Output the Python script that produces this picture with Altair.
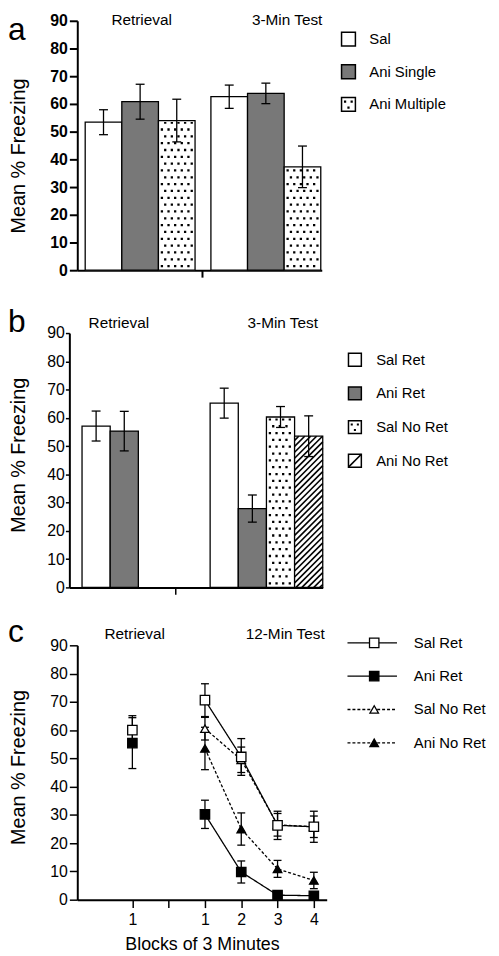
import json
import altair as alt
import numpy as np
import pandas as pd

FONT = "Liberation Sans"

# ---------------- data ----------------
# panel a
a_groups = ["Retrieval", "3-Min Test"]
a_series = ["Sal", "Ani Single", "Ani Multiple"]
a_retrieval_mean = [53.4, 60.8, 54.0]
a_retrieval_sem = [4.5, 6.3, 7.7]
a_test_mean = [62.6, 63.8, 37.3]
a_test_sem = [4.2, 3.7, 7.5]

# panel b
b_groups = ["Retrieval", "3-Min Test"]
b_series = ["Sal Ret", "Ani Ret", "Sal No Ret", "Ani No Ret"]
b_retrieval_series = ["Sal Ret", "Ani Ret"]
b_retrieval_mean = [57.1, 55.3]
b_retrieval_sem = [5.3, 7.0]
b_test_mean = [65.2, 27.9, 60.3, 53.5]
b_test_sem = [5.3, 4.8, 3.7, 7.2]

# panel c
c_groups = ["Retrieval", "12-Min Test"]
c_series = ["Sal Ret", "Ani Ret", "Sal No Ret", "Ani No Ret"]
c_blocks = [1, 2, 3, 4]
c_retrieval_series = ["Sal Ret", "Ani Ret"]
c_retrieval_mean = [60.0, 55.4]
c_retrieval_sem = [5.1, 9.0]
c_test_mean = {
    "Sal Ret": [70.6, 50.5, 26.3, 25.8],
    "Ani Ret": [30.2, 9.8, 1.6, 1.4],
    "Sal No Ret": [60.5, 49.5, 26.5, 25.8],
    "Ani No Ret": [53.5, 25.0, 10.9, 6.8],
}
c_test_sem = {
    "Sal Ret": [5.8, 6.5, 5.0, 5.5],
    "Ani Ret": [5.0, 3.9, 0.6, 0.6],
    "Sal No Ret": [4.0, 4.5, 4.0, 3.8],
    "Ani No Ret": [7.5, 5.7, 3.0, 2.9],
}
c_tick_labels = ["1", "", "1", "2", "3", "4"]

y_ticks = list(range(0, 91, 10))
y_title = "Mean % Freezing"
x_title_c = "Blocks of 3 Minutes"

# ---------------- styles / layout ----------------
GRAY = "#787878"
DOT_SYMBOL = "M-0.65,-0.55h0.32v0.32h-0.32Z M0.3,-0.55h0.32v0.32h-0.32Z M-0.16,0.3h0.32v0.32h-0.32Z"
HATCH_SYMBOL = "M-1,1L1,-1"


def bar_table(groups, series_per_group, means, sems, starts):
    rows = []
    for g, grp in enumerate(groups):
        for i, s in enumerate(series_per_group[g]):
            x0 = starts[g] + i
            m, e = means[g][i], sems[g][i]
            rows.append(dict(group=grp, series=s, x0=x0, x1=x0 + 1, xc=x0 + 0.5,
                             mean=m, zero=0.0, lo=m - e, hi=m + e))
    return pd.DataFrame(rows)


def bar_panel(df, series, fills, dotted, hatched, *, width, height, x_range, x_max,
              mid_tick, bar_px, bold, tick_size, tick_width, label_pad, title_pad,
              title_y, axis_offset, letter, letter_y, ann, ann_y):
    px_y = height / 90.0
    xs = alt.Scale(domain=[0, x_max], range=x_range, nice=False, zero=False)
    ys = alt.Scale(domain=[0, 90], nice=False, zero=True)
    xaxis = alt.Axis(values=[mid_tick], labels=False, title=None, tickSize=7,
                     tickWidth=tick_width, domainWidth=2, grid=False)
    yaxis = alt.Axis(values=y_ticks, title=y_title, titleFontSize=20,
                     titleFontWeight="normal", titlePadding=title_pad, titleY=title_y,
                     labelFontSize=16, labelFontWeight="bold" if bold else "normal",
                     labelPadding=label_pad, tickSize=tick_size, tickWidth=tick_width,
                     domainWidth=2, grid=False, offset=axis_offset, labelFlush=False,
                     labelOverlap=False)

    def X(f):
        return alt.X(f, scale=xs, axis=xaxis)

    def Y(f):
        return alt.Y(f, scale=ys, axis=yaxis)

    layers = [
        alt.Chart(df).mark_rect(stroke="black", strokeWidth=1.3).encode(
            x=X("x0:Q"), x2="x1", y=Y("mean:Q"), y2="zero",
            fill=alt.Fill("series:N", scale=alt.Scale(domain=series, range=fills), legend=None))
    ]

    # dotted texture (staggered dots) drawn as dashed vertical rules
    dot_rows = []
    for _, r in df[df.series.isin(dotted)].iterrows():
        top = r["mean"] - 1.5 / px_y
        for j, off in enumerate(np.arange(3.5, bar_px - 2.0, 3.35)):
            dot_rows.append(dict(x=r.x0 + off / bar_px, y0=0.0, y1=top, parity=j % 2))
    if dot_rows:
        dots = pd.DataFrame(dot_rows)
        for par, off in ((0, 10.8), (1, 3.9)):
            layers.append(
                alt.Chart(dots[dots.parity == par]).mark_rule(
                    color="black", strokeWidth=2.3, strokeDash=[2.3, 11.5], strokeDashOffset=off
                ).encode(x=X("x:Q"), y=Y("y0:Q"), y2="y1"))

    # hatched texture
    hatch_rows = []
    for _, r in df[df.series.isin(hatched)].iterrows():
        W = bar_px
        H = r["mean"] * px_y
        for c in np.arange(-W + 3.0, H, 6.0):
            xs_ = max(0.0, -c)
            xe = min(W, H - c)
            if xe > xs_:
                hatch_rows.append(dict(x=r.x0 + xs_ / W, x2=r.x0 + xe / W,
                                       y=(xs_ + c) / px_y, y2=(xe + c) / px_y))
    if hatch_rows:
        layers.append(
            alt.Chart(pd.DataFrame(hatch_rows)).mark_rule(color="black", strokeWidth=1.6).encode(
                x=X("x:Q"), x2="x2", y=Y("y:Q"), y2="y2"))

    caps_df = pd.concat([df.assign(yc=df.lo), df.assign(yc=df.hi)])
    layers += [
        alt.Chart(df).mark_rule(color="black", strokeWidth=1.3).encode(
            x=X("xc:Q"), y=Y("lo:Q"), y2="hi"),
        alt.Chart(caps_df).mark_tick(orient="horizontal", size=9, thickness=1.3,
                                     color="black", opacity=1).encode(
            x=X("xc:Q"), y=Y("yc:Q")),
        alt.Chart(ann).mark_text(fontSize=15.5, baseline="alphabetic", color="black").encode(
            x=X("x:Q"), y=alt.value(ann_y), text="label:N"),
        alt.Chart(pd.DataFrame({"t": [letter]})).mark_text(
            fontSize=32, align="left", baseline="alphabetic", color="black").encode(
            x=alt.value(-62), y=alt.value(letter_y), text="t:N"),
    ]
    return alt.layer(*layers).properties(width=width, height=height)


def box_legend(names, fills, dotted, hatched, *, height, y_range, sym_x, sym_size, text_x):
    ldf = pd.DataFrame({"name": names})
    ly = alt.Scale(type="point", domain=names, range=y_range, padding=0)
    Y = alt.Y("name:N", scale=ly, axis=None)
    layers = [
        alt.Chart(ldf).mark_square(size=sym_size, stroke="black", strokeWidth=1.5, opacity=1).encode(
            x=alt.value(sym_x), y=Y,
            fill=alt.Fill("name:N", scale=alt.Scale(domain=names, range=fills), legend=None)),
    ]
    if dotted:
        layers.append(alt.Chart(ldf[ldf.name.isin(dotted)]).mark_point(
            shape=DOT_SYMBOL, size=sym_size, filled=True, color="black", opacity=1).encode(
            x=alt.value(sym_x), y=Y))
    if hatched:
        layers.append(alt.Chart(ldf[ldf.name.isin(hatched)]).mark_point(
            shape=HATCH_SYMBOL, size=sym_size, filled=False, color="black", strokeWidth=1.6,
            opacity=1).encode(x=alt.value(sym_x), y=Y))
    layers.append(alt.Chart(ldf).mark_text(align="left", baseline="middle", fontSize=15,
                                           color="black").encode(
        x=alt.value(text_x), y=Y, text="name:N"))
    return alt.layer(*layers).properties(width=150, height=height)


# ---------------- panel a ----------------
A_BAR = 37.0
A_RANGE = [8, 255]
A_H = 252
a_df = bar_table(a_groups, [a_series, a_series],
                 [a_retrieval_mean, a_test_mean], [a_retrieval_sem, a_test_sem],
                 starts=[0.216, 3.649])
a_ann = pd.DataFrame({"x": [1.757, 5.73], "label": a_groups})
panel_a = bar_panel(a_df, a_series, ["white", GRAY, "white"], ["Ani Multiple"], [],
                    width=260, height=A_H, x_range=A_RANGE,
                    x_max=(A_RANGE[1] - A_RANGE[0]) / A_BAR, mid_tick=3.405, bar_px=A_BAR,
                    bold=True, tick_size=8, tick_width=2, label_pad=2, title_pad=22,
                    title_y=136, axis_offset=-8, letter="a", letter_y=19.5,
                    ann=a_ann, ann_y=4.5)
legend_a = box_legend(a_series, ["white", GRAY, "white"], ["Ani Multiple"], [],
                      height=A_H, y_range=[18.5, 84.5], sym_x=12, sym_size=196, text_x=33)

# ---------------- panel b ----------------
B_BAR = 256 / 9.0
B_H = 257
b_df = bar_table(b_groups, [b_retrieval_series, b_series],
                 [b_retrieval_mean, b_test_mean], [b_retrieval_sem, b_test_sem],
                 starts=[0.45, 5.0])
b_ann = pd.DataFrame({"x": [1.758, 7.58], "label": b_groups})
b_fills = ["white", GRAY, "white", "white"]
panel_b = bar_panel(b_df, b_series, b_fills, ["Sal No Ret"], ["Ani No Ret"],
                    width=260, height=B_H, x_range=[0, 256], x_max=9.0, mid_tick=3.76,
                    bar_px=B_BAR, bold=False, tick_size=4, tick_width=1.5, label_pad=1,
                    title_pad=19, title_y=123, axis_offset=0, letter="b", letter_y=-1,
                    ann=b_ann, ann_y=-5)
legend_b = box_legend(b_series, b_fills, ["Sal No Ret"], ["Ani No Ret"],
                      height=B_H, y_range=[27, 129], sym_x=18.5, sym_size=169, text_x=40)

# ---------------- panel c ----------------
C_RANGE = [8, 260]
C_UNIT = 36.67
C_H = 257
c_xmin = 1 - 129 / C_UNIT
c_xmax = 1 + 123 / C_UNIT
c_tick_values = [-1, 0, 1, 2, 3, 4]
draw_order = ["Ani No Ret", "Sal No Ret", "Ani Ret", "Sal Ret"]

c_rows = []
for s in draw_order:
    if s in c_retrieval_series:
        k = c_retrieval_series.index(s)
        m, e = c_retrieval_mean[k], c_retrieval_sem[k]
        c_rows.append(dict(series=s, phase="retrieval", x=-1, mean=m, lo=m - e, hi=m + e))
    for b, m, e in zip(c_blocks, c_test_mean[s], c_test_sem[s]):
        c_rows.append(dict(series=s, phase="test", x=b, mean=m, lo=m - e, hi=m + e))
c_df = pd.DataFrame(c_rows)

xs_c = alt.Scale(domain=[c_xmin, c_xmax], range=C_RANGE, nice=False, zero=False)
ys_c = alt.Scale(domain=[0, 90], nice=False)
xaxis_c = alt.Axis(values=c_tick_values,
                   labelExpr=json.dumps(c_tick_labels) + "[datum.value + 1]",
                   title=x_title_c, titleFontSize=18, titleFontWeight="normal", titlePadding=8,
                   labelFontSize=16, labelPadding=4, tickSize=8, tickWidth=1.5, domainWidth=2,
                   grid=False, labelFlush=False, labelOverlap=False)
yaxis_c = alt.Axis(values=y_ticks, title=y_title, titleFontSize=20, titleFontWeight="normal",
                   titlePadding=22, titleY=123, labelFontSize=16, labelPadding=2, tickSize=8,
                   tickWidth=1.5, domainWidth=2, grid=False, offset=-8, labelFlush=False,
                   labelOverlap=False)


def XC(f):
    return alt.X(f, scale=xs_c, axis=xaxis_c)


def YC(f):
    return alt.Y(f, scale=ys_c, axis=yaxis_c)


dash_scale = alt.Scale(domain=c_series, range=[[1, 0], [1, 0], [3, 2], [3, 2]])
shape_scale = alt.Scale(domain=c_series, range=["square", "square", "triangle-up", "triangle-up"])
fill_scale = alt.Scale(domain=c_series, range=["white", "black", "white", "black"])

c_caps = pd.concat([c_df.assign(yc=c_df.lo), c_df.assign(yc=c_df.hi)])
c_ann = pd.DataFrame({"x": [-0.936, 3.21], "label": c_groups})
panel_c = alt.layer(
    alt.Chart(c_df[c_df.phase == "test"]).mark_line(color="black", strokeWidth=1.3).encode(
        x=XC("x:Q"), y=YC("mean:Q"),
        strokeDash=alt.StrokeDash("series:N", scale=dash_scale, legend=None)),
    alt.Chart(c_df).mark_rule(color="black", strokeWidth=1.3).encode(
        x=XC("x:Q"), y=YC("lo:Q"), y2="hi"),
    alt.Chart(c_caps).mark_tick(orient="horizontal", size=8, thickness=1.3, color="black",
                                opacity=1).encode(x=XC("x:Q"), y=YC("yc:Q")),
    alt.Chart(c_df[c_df.series.str.contains("No")]).mark_point(
        filled=True, stroke="black", strokeWidth=1.3, opacity=1, size=75).encode(
        x=XC("x:Q"), y=YC("mean:Q"),
        shape=alt.Shape("series:N", scale=shape_scale, legend=None),
        fill=alt.Fill("series:N", scale=fill_scale, legend=None)),
    alt.Chart(c_df[~c_df.series.str.contains("No")]).mark_point(
        filled=True, stroke="black", strokeWidth=1.3, opacity=1, size=90).encode(
        x=XC("x:Q"), y=YC("mean:Q"),
        shape=alt.Shape("series:N", scale=shape_scale, legend=None),
        fill=alt.Fill("series:N", scale=fill_scale, legend=None)),
    alt.Chart(c_ann).mark_text(fontSize=15.5, baseline="alphabetic", color="black").encode(
        x=XC("x:Q"), y=alt.value(-6.5), text="label:N"),
    alt.Chart(pd.DataFrame({"t": ["c"]})).mark_text(
        fontSize=32, align="left", baseline="alphabetic", color="black").encode(
        x=alt.value(-62), y=alt.value(-3.5), text="t:N"),
).properties(width=260, height=C_H)

lc_df = pd.DataFrame({"name": c_series})
ly_c = alt.Scale(type="point", domain=c_series, range=[-2.5, 98.5], padding=0)
LYC = alt.Y("name:N", scale=ly_c, axis=None)
legend_c = alt.layer(
    alt.Chart(lc_df).mark_rule(color="black", strokeWidth=1.3).encode(
        x=alt.value(11), x2=alt.value(61), y=LYC,
        strokeDash=alt.StrokeDash("name:N", scale=dash_scale, legend=None)),
    alt.Chart(lc_df[lc_df.name.str.contains("No")]).mark_point(
        filled=True, stroke="black", strokeWidth=1.3, opacity=1, size=75).encode(
        x=alt.value(38), y=LYC,
        shape=alt.Shape("name:N", scale=shape_scale, legend=None),
        fill=alt.Fill("name:N", scale=fill_scale, legend=None)),
    alt.Chart(lc_df[~lc_df.name.str.contains("No")]).mark_point(
        filled=True, stroke="black", strokeWidth=1.3, opacity=1, size=90).encode(
        x=alt.value(38), y=LYC,
        shape=alt.Shape("name:N", scale=shape_scale, legend=None),
        fill=alt.Fill("name:N", scale=fill_scale, legend=None)),
    alt.Chart(lc_df).mark_text(align="left", baseline="middle", fontSize=15,
                               color="black").encode(x=alt.value(78), y=LYC, text="name:N"),
).properties(width=150, height=C_H)

chart = alt.concat(
    panel_a, legend_a, panel_b, legend_b, panel_c, legend_c,
    columns=2, spacing={"row": 58.5, "column": 10}, bounds="flush", align="all",
).resolve_scale(
    fill="independent", shape="independent", strokeDash="independent"
).properties(
    padding={"top": 0, "left": 0, "right": 5, "bottom": 0}
).configure_view(stroke=None).configure_axis(
    labelFont=FONT, titleFont=FONT, labelColor="black", titleColor="black",
    domainColor="black", tickColor="black", grid=False
).configure_text(font=FONT)

chart.save("out.html", embed_options={"renderer": "svg", "actions": False})
